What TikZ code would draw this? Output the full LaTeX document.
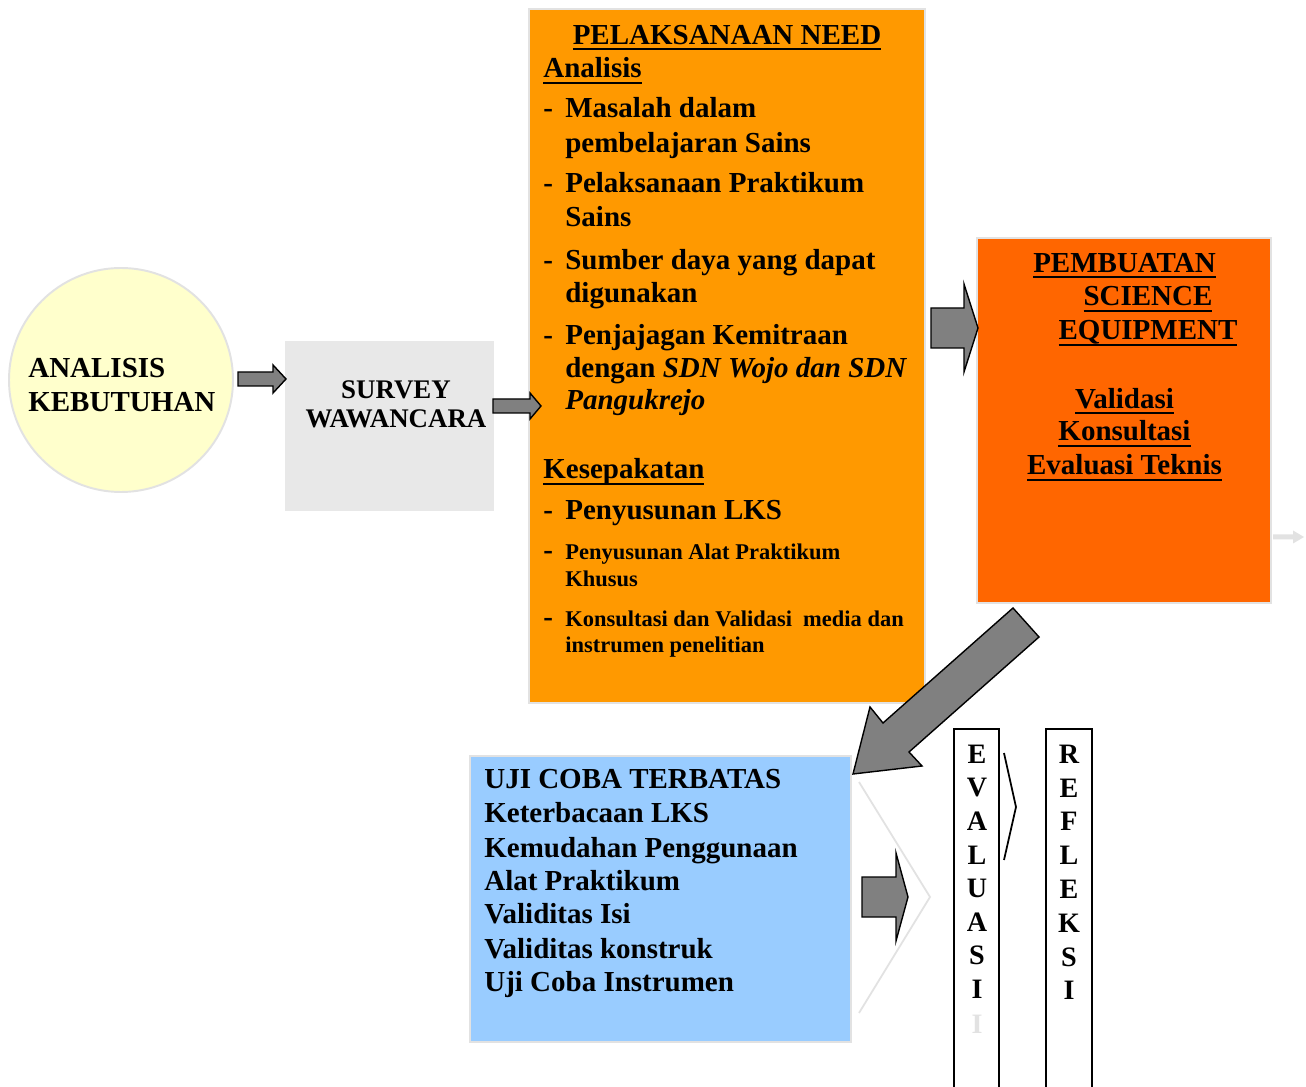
\documentclass[tikz,border=0pt]{standalone}
\usepackage{fontspec}
\setmainfont{Liberation Serif}
\definecolor{needorange}{HTML}{FF9900}
\definecolor{makeorange}{HTML}{FF6600}
\definecolor{trialblue}{HTML}{99CCFF}
\definecolor{circleyellow}{HTML}{FFFFCC}
\definecolor{surveygray}{HTML}{E8E8E8}
\definecolor{edgegray}{HTML}{E2E2E2}
\definecolor{arrowgray}{HTML}{808080}
\newcommand{\bigtxt}{\fontsize{16.5}{19.3}\selectfont\bfseries}
\newcommand{\smalltxt}{\fontsize{12.8}{15}\selectfont\bfseries}
\newcommand{\srvtxt}{\fontsize{15.3}{17}\selectfont\bfseries}
\newcommand{\lettxt}{\fontsize{16}{18}\selectfont\bfseries}
\newcommand{\undl}[1]{\leavevmode\setbox0=\hbox{#1}\rlap{\rule[-3.4pt]{\wd0}{1.1pt}}\box0}
\tikzset{
  txt/.style={font=\bigtxt, anchor=base west, inner sep=0pt},
  smalltext/.style={font=\smalltxt, anchor=base west, inner sep=0pt},
  ctxt/.style={font=\bigtxt, anchor=base, inner sep=0pt},
  letter/.style={font=\lettxt, anchor=base, inner sep=0pt},
  blockarrow/.style={fill=arrowgray, draw=black, line width=0.8pt, line join=miter},
  panel/.style={draw=edgegray, line width=1.1pt}
}

\begin{document}
\begin{tikzpicture}[x=0.02cm,y=-0.02cm]
  \fill[white] (0,0) rectangle (1306,1087);
  \useasboundingbox (0,0) rectangle (1306,1087);
  % shapes
  \draw[panel, fill=circleyellow] (121,380) circle[radius=112];
  \fill[surveygray] (285,341) rectangle (494,511);
  \draw[panel, fill=needorange] (529,9) rectangle (925,703);
  \draw[panel, fill=makeorange] (977,238) rectangle (1271,603);
  \draw[panel, fill=trialblue] (470,756) rectangle (851,1042);
  \draw[line width=1.2pt] (954,1087) -- (954,729) -- (999,729) -- (999,1087);
  \draw[line width=1.2pt] (1046,1087) -- (1046,729) -- (1092,729) -- (1092,1087);
  % block arrows
  \foreach \xa/\xh/\xb/\y/\sh/\hh in {238/273/286/379/7/14, 493/530/541/406/7/13,
      931/964/978/328/20/44, 862/896/908/897/20/44}
    \draw[blockarrow] ({\xa},{\y-\sh}) -- ({\xh},{\y-\sh}) -- ({\xh},{\y-\hh}) -- ({\xb},{\y})
      -- ({\xh},{\y+\hh}) -- ({\xh},{\y+\sh}) -- ({\xa},{\y+\sh}) -- cycle;
  \draw[blockarrow] (1013,608) -- (883,723) -- (870,707) -- (853,774) -- (922,766)
    -- (909,752) -- (1039,637) -- cycle;
  \fill[edgegray] (1273,534.5) -- (1293,534.5) -- (1293,530.5) -- (1304,537)
    -- (1293,543.5) -- (1293,539.5) -- (1273,539.5) -- cycle;
  \draw[edgegray, line width=1pt] (859,782) -- (930,897) -- (859,1013);
  \draw[line width=1pt] (1004,753) -- (1016,807) -- (1004,860);
  % first two steps
  \node[txt] (anl1) at (28,377.7) {ANALISIS};
  \node[txt] (anl2) at (28,411.7) {KEBUTUHAN};
  \node[font=\srvtxt, anchor=base, inner sep=0pt] (srv1) at (396,398.3) {SURVEY};
  \node[font=\srvtxt, anchor=base, inner sep=0pt] (srv2) at (396,427.3) {WAWANCARA};
  % need analysis
  \node[ctxt] (needtitle) at (727,44.3) {\undl{PELAKSANAAN NEED}};
  \node[txt] (analisis) at (543,78) {\undl{Analisis}};
  \node[txt] (kesepakatan) at (543,479) {\undl{Kesepakatan}};
  \foreach \y [count=\i] in {118,192.7,269.3,344.3,520,560,626.7}
    \node[txt] (dash\i) at (543,\y) {-};
  \foreach \y/\t [count=\i] in {118/Masalah dalam, 152.7/pembelajaran Sains,
      192.7/Pelaksanaan Praktikum, 226.7/Sains, 269.3/Sumber daya yang dapat,
      302.3/digunakan, 344.3/Penjajagan Kemitraan,
      377.7/{dengan \textit{SDN Wojo dan SDN}}, 410/\textit{Pangukrejo},
      520/Penyusunan LKS}
    \node[txt] (needln\i) at (565,\y) {\t};
  \foreach \y/\t [count=\i] in {560/Penyusunan Alat Praktikum, 586.7/Khusus,
      626.7/Konsultasi dan Validasi\ \ media dan, 652.7/instrumen penelitian}
    \node[smalltext] (agreeln\i) at (565,\y) {\t};
  % science equipment
  \foreach \x/\y/\t [count=\i] in {1124.5/272.3/PEMBUATAN, 1148/306/SCIENCE,
      1148/340/EQUIPMENT, 1124.5/408.3/Validasi, 1124.5/441/Konsultasi,
      1124.5/475/{Evaluasi Teknis}}
    \node[ctxt] (make\i) at (\x,\y) {\undl{\t}};
  % limited trial
  \foreach \y/\t [count=\i] in {789/UJI COBA TERBATAS, 823/Keterbacaan LKS,
      857.3/Kemudahan Penggunaan, 890.5/Alat Praktikum, 924/Validitas Isi,
      958.3/Validitas konstruk, 991.7/Uji Coba Instrumen}
    \node[txt] (trial\i) at (484,\y) {\t};
  % evaluation and reflection
  \foreach \l [count=\i] in {E,V,A,L,U,A,S,I}
    \node[letter] (eval\i) at (977,{763.3+33.6*(\i-1)}) {\l};
  \node[letter, text=edgegray] (eval9) at (977,1033.3) {I};
  \foreach \l [count=\i] in {R,E,F,L,E,K,S,I}
    \node[letter] (refl\i) at (1069,{763.3+33.8*(\i-1)}) {\l};
\end{tikzpicture}
\end{document}
